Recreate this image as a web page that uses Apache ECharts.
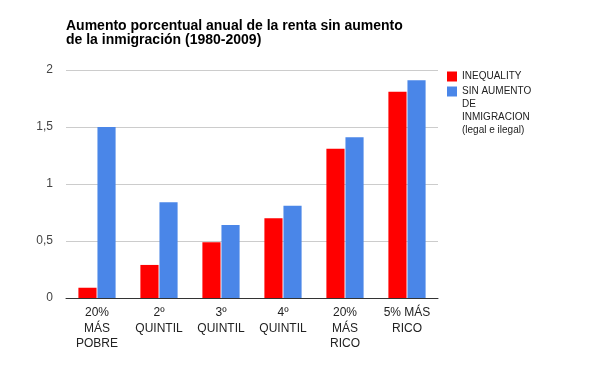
<!DOCTYPE html>
<html>
<head>
<meta charset="utf-8">
<script src="https://cdn.jsdelivr.net/npm/echarts@6/dist/echarts.min.js"></script>
<style>
  html, body { margin: 0; padding: 0; background: #fff; }
  #chart { width: 608px; height: 376px; }
</style>
</head>
<body>
<div id="chart"></div>
<script>
// data
const categories = ['20%\nMÁS\nPOBRE', '2º\nQUINTIL', '3º\nQUINTIL', '4º\nQUINTIL', '20%\nMÁS\nRICO', '5% MÁS\nRICO']
const inequality = [0.09, 0.29, 0.49, 0.7, 1.31, 1.81]
const sinAumento = [1.5, 0.84, 0.64, 0.81, 1.41, 1.91]
const seriesNames = ['INEQUALITY', 'SIN AUMENTO\nDE\nINMIGRACION\n(legal e ilegal)']
const titleText = 'Aumento porcentual anual de la renta sin aumento\nde la inmigración (1980-2009)'

const font = '"Liberation Sans", Arial, sans-serif'
const legendText = { fontFamily: font, fontSize: 10, color: '#222', lineHeight: 13 }
const myChart = echarts.init(document.getElementById('chart'))
myChart.setOption({
    animation: false,
    title: {
        text: titleText,
        left: 66,
        top: 19,
        padding: 0,
        textStyle: {
            fontFamily: font,
            fontSize: 14,
            fontWeight: 'bold',
            color: '#000',
            lineHeight: 14
        }
    },
    legend: [{
        data: [seriesNames[0]],
        left: 447,
        top: 70,
        padding: 0,
        itemWidth: 10,
        itemHeight: 10,
        icon: 'rect',
        textStyle: legendText
    }, {
        // leading blank lines keep the first text line level with the swatch
        data: [seriesNames[1]],
        left: 447,
        top: 46,
        padding: 0,
        itemWidth: 10,
        itemHeight: 10,
        icon: 'rect',
        formatter: name => '\n\n\n' + name,
        textStyle: legendText
    }],
    grid: {
        left: 66,
        right: 170,
        top: 70,
        bottom: 78
    },
    xAxis: {
        type: 'category',
        data: categories,
        axisLine: { lineStyle: { color: '#333', width: 1 } },
        axisTick: { show: false },
        axisLabel: {
            interval: 0,
            margin: 7,
            fontFamily: font,
            fontSize: 12,
            color: '#222',
            lineHeight: 15.5
        }
    },
    yAxis: {
        type: 'value',
        min: 0,
        max: 2,
        interval: 0.5,
        axisLine: { show: false },
        axisTick: { show: false },
        splitLine: { lineStyle: { color: '#ccc' } },
        axisLabel: {
            margin: 13,
            fontFamily: font,
            fontSize: 12,
            color: '#444',
            formatter: v => String(v).replace('.', ',')
        }
    },
    series: [{
        name: seriesNames[0],
        type: 'bar',
        data: inequality,
        itemStyle: { color: '#ff0000' },
        barGap: '5%',
        barCategoryGap: '40%'
    }, {
        name: seriesNames[1],
        type: 'bar',
        data: sinAumento,
        itemStyle: { color: '#4a86e8' }
    }]
})
</script>
</body>
</html>
